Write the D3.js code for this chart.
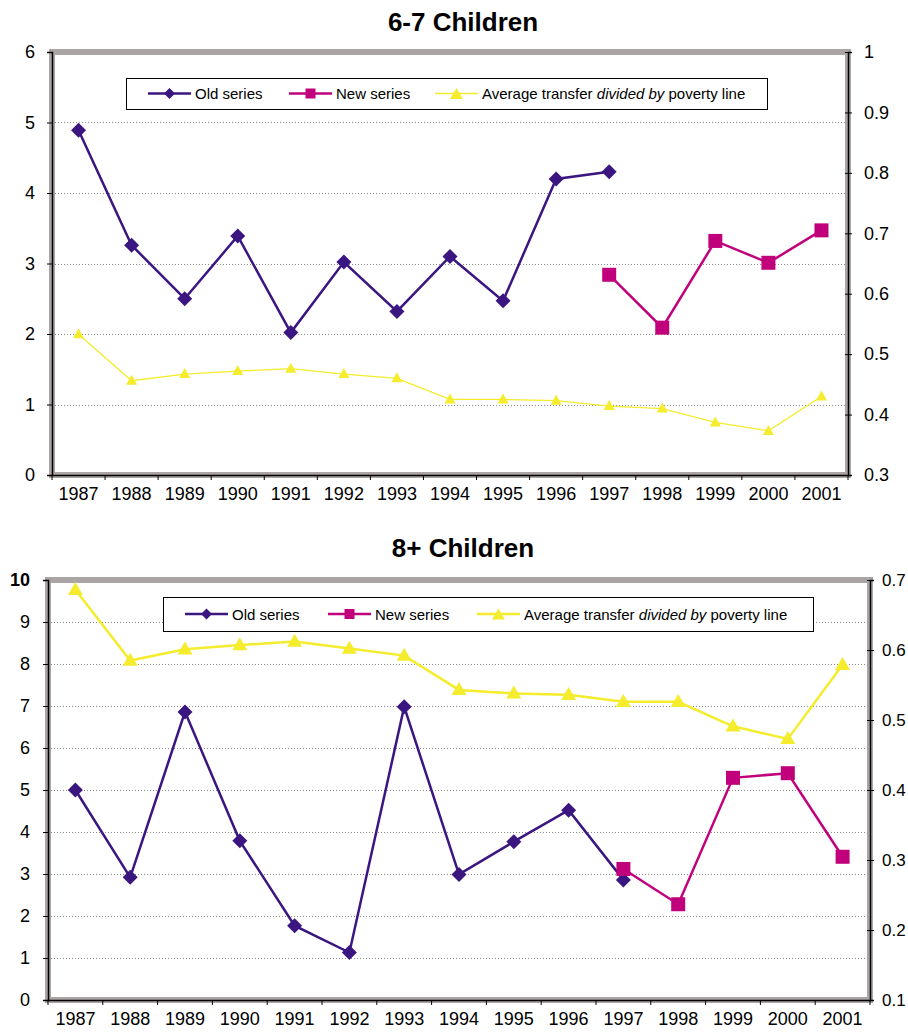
<!DOCTYPE html>
<html>
<head>
<meta charset="utf-8">
<script src="https://cdn.jsdelivr.net/npm/d3@7"></script>
<style>
  html, body { margin: 0; padding: 0; background: #fff; }
  svg { display: block; font-family: "Liberation Sans", Arial, sans-serif; }
</style>
</head>
<body>
<svg id="chart" width="908" height="1033"></svg>
<script>
// ---------- DATA ----------
const years = ["1987","1988","1989","1990","1991","1992","1993","1994","1995","1996","1997","1998","1999","2000","2001"];

// 6-7 Children
const oldSeries67 = [4.89, 3.26, 2.50, 3.39, 2.02, 3.02, 2.32, 3.10, 2.47, 4.20, 4.30, null, null, null, null];
const newSeries67 = [null, null, null, null, null, null, null, null, null, null, 2.84, 2.09, 3.32, 3.01, 3.47];
const avgTransfer67 = [0.533, 0.456, 0.467, 0.472, 0.476, 0.467, 0.460, 0.425, 0.425, 0.423, 0.414, 0.410, 0.387, 0.373, 0.430];
const leftTicks67 = [0, 1, 2, 3, 4, 5, 6];
const rightTicks67 = [0.3, 0.4, 0.5, 0.6, 0.7, 0.8, 0.9, 1];

// 8+ Children
const oldSeries8 = [5.00, 2.92, 6.86, 3.79, 1.77, 1.13, 6.98, 2.99, 3.77, 4.52, 2.86, null, null, null, null];
const newSeries8 = [null, null, null, null, null, null, null, null, null, null, 3.12, 2.28, 5.29, 5.40, 3.41];
const avgTransfer8 = [0.686, 0.585, 0.601, 0.607, 0.612, 0.602, 0.592, 0.543, 0.538, 0.536, 0.526, 0.526, 0.491, 0.473, 0.579];
const leftTicks8 = [0, 1, 2, 3, 4, 5, 6, 7, 8, 9, 10];
const rightTicks8 = [0.1, 0.2, 0.3, 0.4, 0.5, 0.6, 0.7];

const legendLabels = ["Old series", "New series"];

// ---------- STYLE ----------
const C_OLD = "#3b1680";
const C_NEW = "#c1007c";
const C_AVG = "#f4ec2c";
const FRAME = "#aba4a4";

const svg = d3.select("#chart");

function diamond(r) { return `M0,${-r}L${r},0L0,${r}L${-r},0Z`; }
function square(s) { return `M${-s/2},${-s/2}h${s}v${s}h${-s}Z`; }
function triangle(w, h) { return `M0,${-h*0.6}L${w/2},${h*0.4}L${-w/2},${h*0.4}Z`; }

function drawChart(cfg) {
  const g = svg.append("g");
  const { left, right, top, bottom } = cfg.box;

  const x = d3.scaleBand().domain(years).range([left, right]).padding(0);
  const yL = d3.scaleLinear().domain(cfg.leftDomain).range([bottom, top]);
  const yR = d3.scaleLinear().domain(cfg.rightDomain).range([bottom, top]);
  const cx = d => x(d) + x.bandwidth() / 2;

  // title
  g.append("text").attr("x", cfg.titleX).attr("y", cfg.titleY)
    .attr("text-anchor", "middle").attr("font-size", 26).attr("font-weight", "bold")
    .attr("fill", "#000").text(cfg.title);

  // frame
  g.append("rect").attr("x", left).attr("y", top).attr("width", right - left).attr("height", bottom - top)
    .attr("fill", "#fff").attr("stroke", FRAME).attr("stroke-width", 6);

  // gridlines
  g.append("g").selectAll("line").data(cfg.leftTicks.filter(t => t !== cfg.leftDomain[0] && t !== cfg.leftDomain[1]))
    .join("line")
    .attr("x1", left + 3).attr("x2", right - 3)
    .attr("y1", d => Math.round(yL(d)) + 0.5).attr("y2", d => Math.round(yL(d)) + 0.5)
    .attr("stroke", "#8a8a8a").attr("stroke-width", 1).attr("stroke-dasharray", "1,2");

  // left axis
  const la = g.append("g").attr("transform", `translate(${left},0)`)
    .call(d3.axisLeft(yL).tickValues(cfg.leftTicks).tickSize(5).tickPadding(cfg.leftPad).tickFormat(d3.format("d")));
  la.select(".domain").attr("stroke", "#000").attr("stroke-width", 1.5);
  la.selectAll(".tick line").attr("stroke", "#000");
  la.selectAll(".tick text").attr("font-size", 18).attr("fill", "#000")
    .attr("font-family", "Liberation Sans, Arial, sans-serif")
    .attr("font-weight", d => (cfg.boldTop && d === cfg.leftDomain[1]) ? "bold" : "normal");

  // right axis
  const ra = g.append("g").attr("transform", `translate(${right},0)`)
    .call(d3.axisRight(yR).tickValues(cfg.rightTicks).tickSize(4).tickPadding(cfg.rightPad)
      .tickFormat(d => d === 1 ? "1" : d3.format(".1f")(d)));
  ra.select(".domain").attr("stroke", "#000").attr("stroke-width", 1.5);
  ra.selectAll(".tick line").attr("stroke", "#000").attr("x1", -3);
  ra.selectAll(".tick text").attr("font-size", cfg.rightFont).attr("fill", "#000")
    .attr("font-family", "Liberation Sans, Arial, sans-serif");

  // bottom axis
  const ba = g.append("g").attr("transform", `translate(0,${bottom})`)
    .call(d3.axisBottom(x).tickSize(0).tickPadding(12));
  ba.select(".domain").attr("stroke", "#000").attr("stroke-width", 1.5);
  ba.selectAll(".tick text").attr("font-size", 18).attr("fill", "#000")
    .attr("font-family", "Liberation Sans, Arial, sans-serif");
  g.append("g").selectAll("line").data(years.map(d => x(d)).concat([right]))
    .join("line")
    .attr("x1", d => d).attr("x2", d => d).attr("y1", bottom).attr("y2", bottom + 5)
    .attr("stroke", "#000").attr("stroke-width", 1);

  // series
  const idx = years.map((d, i) => i);
  const lineL = d3.line().defined(i => cfg.old[i] != null).x(i => cx(years[i])).y(i => yL(cfg.old[i]));
  const lineN = d3.line().defined(i => cfg.new[i] != null).x(i => cx(years[i])).y(i => yL(cfg.new[i]));
  const lineA = d3.line().x(i => cx(years[i])).y(i => yR(cfg.avg[i]));

  g.append("path").datum(idx).attr("d", lineA).attr("fill", "none")
    .attr("stroke", C_AVG).attr("stroke-width", cfg.avgWidth);
  g.append("g").selectAll("path").data(idx).join("path")
    .attr("transform", i => `translate(${cx(years[i])},${yR(cfg.avg[i])})`)
    .attr("d", triangle(cfg.triW, cfg.triH)).attr("fill", C_AVG);

  g.append("path").datum(idx).attr("d", lineL).attr("fill", "none")
    .attr("stroke", C_OLD).attr("stroke-width", 2.5);
  g.append("g").selectAll("path").data(idx.filter(i => cfg.old[i] != null)).join("path")
    .attr("transform", i => `translate(${cx(years[i])},${yL(cfg.old[i])})`)
    .attr("d", diamond(7.5)).attr("fill", C_OLD);

  g.append("path").datum(idx).attr("d", lineN).attr("fill", "none")
    .attr("stroke", C_NEW).attr("stroke-width", 2.5);
  g.append("g").selectAll("path").data(idx.filter(i => cfg.new[i] != null)).join("path")
    .attr("transform", i => `translate(${cx(years[i])},${yL(cfg.new[i])})`)
    .attr("d", square(14)).attr("fill", C_NEW);

  // legend
  const L = cfg.legend;
  const lg = g.append("g");
  lg.append("rect").attr("x", L.x + 0.5).attr("y", L.y + 0.5).attr("width", L.w).attr("height", L.h)
    .attr("fill", "#fff").attr("stroke", "#000").attr("stroke-width", 1);
  const cy = L.y + L.h / 2;
  const items = [
    { c: C_OLD, m: diamond(5.5), w: 2.5, label: legendLabels[0] },
    { c: C_NEW, m: square(10), w: 2.5, label: legendLabels[1] },
    { c: C_AVG, m: triangle(13, 11), w: cfg.avgWidth, label: null }
  ];
  items.forEach((it, k) => {
    const x0 = L.items[k];
    lg.append("line").attr("x1", x0).attr("x2", x0 + 43).attr("y1", cy).attr("y2", cy)
      .attr("stroke", it.c).attr("stroke-width", it.w);
    lg.append("path").attr("transform", `translate(${x0 + 21.5},${cy + (k === 2 ? 1 : 0)})`).attr("d", it.m).attr("fill", it.c);
    const t = lg.append("text").attr("x", x0 + 47).attr("y", cy + 5.5).attr("font-size", 15).attr("fill", "#000");
    if (it.label) t.text(it.label);
    else {
      t.append("tspan").text("Average transfer ");
      t.append("tspan").attr("font-style", "italic").text("divided by");
      t.append("tspan").text(" poverty line");
    }
  });
}

drawChart({
  title: "6-7 Children", titleX: 463, titleY: 31,
  box: { left: 52, right: 848, top: 52, bottom: 475 },
  leftDomain: [0, 6], rightDomain: [0.3, 1],
  leftTicks: leftTicks67, rightTicks: rightTicks67,
  leftPad: 12, rightPad: 12, rightFont: 18,
  old: oldSeries67, new: newSeries67, avg: avgTransfer67,
  avgWidth: 1.3, triW: 11, triH: 10, boldTop: false,
  legend: { x: 126, y: 78, w: 641, h: 31, items: [148, 289, 435] }
});

drawChart({
  title: "8+ Children", titleX: 463, titleY: 557,
  box: { left: 48, right: 870, top: 580, bottom: 1000 },
  leftDomain: [0, 10], rightDomain: [0.1, 0.7],
  leftTicks: leftTicks8, rightTicks: rightTicks8,
  leftPad: 13, rightPad: 8, rightFont: 17,
  old: oldSeries8, new: newSeries8, avg: avgTransfer8,
  avgWidth: 2.5, triW: 15, triH: 13, boldTop: true,
  legend: { x: 163, y: 597, w: 650, h: 34, items: [185, 328, 477] }
});
</script>
</body>
</html>
